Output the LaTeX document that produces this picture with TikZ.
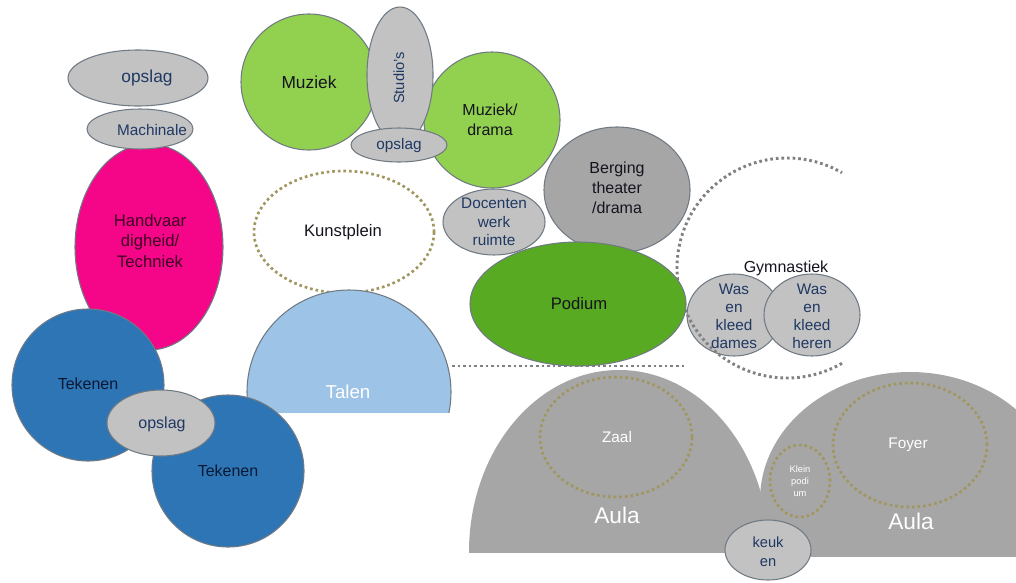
\documentclass[tikz,border=0pt]{standalone}
\usepackage{fontspec}
\setmainfont{Liberation Sans}
\usetikzlibrary{shapes.geometric}
\definecolor{edgec}{RGB}{112,122,132}
\definecolor{lgreyc}{RGB}{194,194,194}
\definecolor{bergc}{RGB}{166,166,166}
\definecolor{aulac}{RGB}{166,166,166}
\definecolor{greenc}{RGB}{146,208,80}
\definecolor{podiumc}{RGB}{88,170,34}
\definecolor{magc}{RGB}{245,5,135}
\definecolor{bluec}{RGB}{46,117,182}
\definecolor{talenc}{RGB}{157,195,230}
\definecolor{olivec}{RGB}{160,150,95}
\definecolor{gymdotc}{RGB}{128,128,128}
\definecolor{navyc}{RGB}{31,56,100}
\definecolor{darktxt}{RGB}{20,20,30}
\begin{document}
\begin{tikzpicture}[x=0.75pt,y=-0.75pt,
  sz/.style 2 args={minimum width=#1*1.5pt, minimum height=#2*1.5pt},
  shp/.style={ellipse, inner sep=0pt, outer sep=0pt, draw=edgec, line width=0.8pt},
  lgrey/.style={shp, fill=lgreyc},
  txt/.style={inner sep=0pt, align=center, font=\fontsize{12}{15}\selectfont},
  navytxt/.style={txt, text=navyc},
  whitetxt/.style={txt, text=white},
  olivedots/.style={ellipse, inner sep=0pt, draw=olivec, line width=2pt, dash pattern=on 2pt off 2.2pt},
  greydots/.style={draw=gymdotc, line width=2.2pt, dash pattern=on 2pt off 2.2pt}
]
\useasboundingbox (0,0) rectangle (1016,582);

% Kunstplein (behind Talen)
\node[olivedots, sz={90}{61}] (kunst) at (344,232) {};
\node[txt, text=darktxt, font=\fontsize{12.5}{15}\selectfont] (kunstT) at (343,232) {Kunstplein};

% Talen
\begin{scope}
\clip (0,0) rectangle (1016,412);
\node[shp, circle, fill=talenc, minimum size=153pt] (talen) at (349,392) {};
\end{scope}
\node[whitetxt, font=\fontsize{14}{16}\selectfont] (talenT) at (348,392) {Talen};

% Handvaardigheid, Machinale, opslag
\node[shp, fill=magc, sz={74}{103}] (hand) at (149,247) {};
\node[txt, text={rgb,255:red,60;green,0;blue,35}, font=\fontsize{12.5}{15.5}\selectfont] (handT) at (150,241) {Handvaar\\digheid/\\Techniek};
\node[lgrey, sz={53}{20}] (mach) at (140,129) {};
\node[navytxt, font=\fontsize{11.5}{14}\selectfont] (machT) at (152,130) {Machinale};
\node[lgrey, sz={70}{28}] (opslag1) at (138,78) {};
\node[navytxt, font=\fontsize{13}{15}\selectfont] (opslag1T) at (147,78) {opslag};

% Tekenen
\node[shp, circle, fill=bluec, minimum size=114pt] (tek1) at (88,385) {};
\node[txt, text={rgb,255:red,10;green,25;blue,50}] (tek1T) at (88,384) {Tekenen};
\node[shp, circle, fill=bluec, minimum size=114pt] (tek2) at (228,471) {};
\node[txt, text={rgb,255:red,10;green,25;blue,50}] (tek2T) at (228,471) {Tekenen};
\node[lgrey, sz={54}{33}] (opslag2) at (161,423) {};
\node[navytxt] (opslag2T) at (162,424) {opslag};

% Muziek
\node[shp, circle, fill=greenc, minimum size=102pt] (muz) at (309,82) {};
\node[txt, text=darktxt, font=\fontsize{13}{15}\selectfont] (muzT) at (309,82) {Muziek};
\node[shp, circle, fill=greenc, minimum size=102pt] (muzdr) at (492,120) {};
\node[txt, text=darktxt] (muzdrT) at (490,120) {Muziek/\\drama};
\node[lgrey, sz={33}{68}] (studio) at (400,75) {};
\node[navytxt, rotate=90, font=\fontsize{11}{13}\selectfont] (studioT) at (399,78) {Studio's};
\node[lgrey, sz={48}{17}] (opslag3) at (399,145) {};
\node[navytxt, font=\fontsize{11.5}{13}\selectfont] (opslag3T) at (399,146) {opslag};

% Gymnastiek
\node[lgrey, sz={47}{41}] (dames) at (734,315) {};
\node[navytxt, font=\fontsize{11.5}{13.5}\selectfont] (damesT) at (734,316) {Was\\en\\kleed\\dames};
\node[lgrey, sz={48}{41}] (heren) at (812,315) {};
\node[navytxt, font=\fontsize{11.5}{13.5}\selectfont] (herenT) at (812,316) {Was\\en\\kleed\\heren};
\coordinate (gymC) at (787,268);
\draw[greydots] (gymC) ++(60:110) arc[start angle=60, end angle=300, radius=110];
\node[txt, text=darktxt] (gymT) at (786,268) {Gymnastiek};

% dotted line
\coordinate (lineA) at (452,366);
\coordinate (lineB) at (686,366);
\draw[greydots] (lineA) -- (lineB);

% Berging, Docenten, Podium
\node[shp, fill=bergc, sz={73}{63}] (berg) at (617,190) {};
\node[txt, text=darktxt] (bergT) at (617,188) {Berging\\theater\\/drama};
\node[lgrey, sz={51}{33}] (doc) at (494,222) {};
\node[navytxt, font=\fontsize{11.5}{14}\selectfont] (docT) at (494,222) {Docenten\\werk\\ruimte};
\node[shp, fill=podiumc, sz={108}{62}] (podium) at (578,304) {};
\node[txt, text=darktxt, font=\fontsize{12.5}{15}\selectfont] (podiumT) at (579,304) {Podium};

% Aula
\begin{scope}
\clip (0,0) rectangle (1016,552);
\node[ellipse, inner sep=0pt, fill=aulac, sz={150}{182}] (aulaL) at (619,552) {};
\end{scope}
\begin{scope}
\clip (0,0) rectangle (1016,500.5);
\node[ellipse, inner sep=0pt, fill=aulac, sz={150}{128}] (aulaR) at (910,500) {};
\end{scope}
\fill[aulac] (760,500) rectangle (1016,557);
\node[whitetxt, font=\fontsize{17}{19}\selectfont] (aulaLT) at (617,515) {Aula};
\node[whitetxt, font=\fontsize{17}{19}\selectfont] (aulaRT) at (911,521) {Aula};
\node[olivedots, sz={76}{60}] (zaal) at (616,437) {};
\node[whitetxt, font=\fontsize{11.5}{14}\selectfont] (zaalT) at (617,437) {Zaal};
\node[olivedots, sz={77}{62}] (foyer) at (910,445) {};
\node[whitetxt, font=\fontsize{11.5}{14}\selectfont] (foyerT) at (908,445) {Foyer};
\node[olivedots, sz={30}{36}] (klein) at (800,481) {};
\node[whitetxt, font=\fontsize{7}{9}\selectfont] (kleinT) at (800,481) {Klein\\podi\\um};
\node[lgrey, sz={43}{30}] (keuken) at (768,550) {};
\node[navytxt, font=\fontsize{11}{14}\selectfont] (keukenT) at (768,552) {keuk\\en};
\end{tikzpicture}
\end{document}
